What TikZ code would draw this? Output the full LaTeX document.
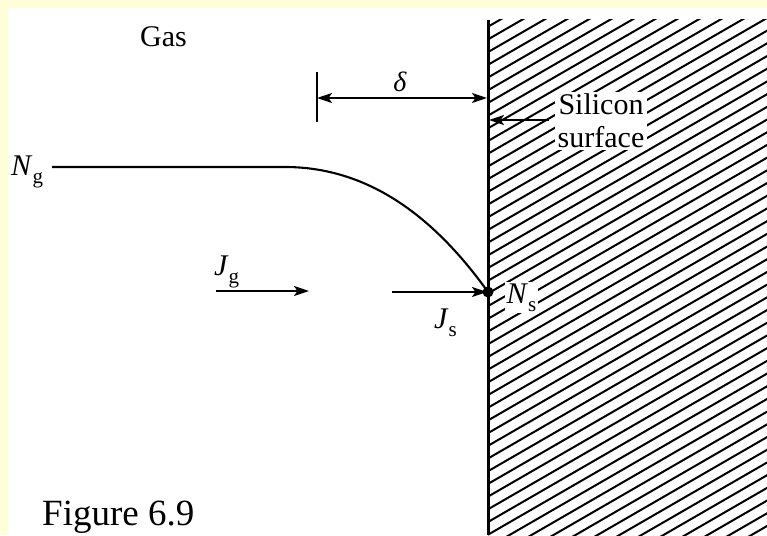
\documentclass[tikz,border=0pt]{standalone}
\usepackage{fontspec}
\setmainfont{Liberation Serif}
\usetikzlibrary{arrows.meta}
\definecolor{bgyellow}{RGB}{255,255,215}
\begin{document}
\begin{tikzpicture}[x=1pt,y=-1pt,
  lbl/.style={inner sep=0pt, font=\fontsize{30}{33}\selectfont},
  thin line/.style={line width=2.1pt},
  arr/.style={line width=2.1pt, -{Stealth[length=15pt,width=10pt,inset=3.5pt]}},
  dimarr/.style={line width=2.1pt, {Stealth[length=15pt,width=10pt,inset=3.5pt]}-{Stealth[length=15pt,width=10pt,inset=3.5pt]}}]
\useasboundingbox (0,0) rectangle (767,535);
\fill[bgyellow] (0,0) rectangle (767,535);
\fill[white] (8,8) rectangle (767,535);
% hatching of the silicon
\begin{scope}
  \clip (488,20) rectangle (767,535);
  \foreach \i in {0,...,55} \draw[line width=2pt] (488,{14+12.7*\i}) -- ++(320,-184.75);
\end{scope}
\coordinate (wtop) at (488,20);
\coordinate (wbot) at (488,535);
\draw[line width=3pt] (wtop) -- (wbot);
% texts
\node[lbl, anchor=base west] (gas) at (140,47) {Gas};
\node[lbl, anchor=base west] (Ng) at (11,175) {\textit{N}\raisebox{-8pt}{\fontsize{21}{21}\selectfont g}};
\node[lbl, anchor=base west] (Jg) at (214,275) {\textit{J}\raisebox{-8pt}{\fontsize{21}{21}\selectfont g}};
\node[lbl, anchor=base west] (Js) at (434,328) {\textit{J}\raisebox{-8pt}{\fontsize{21}{21}\selectfont s}};
\node[lbl, anchor=base west, fill=white, inner sep=1.5pt] (Ns) at (505,303) {\textit{N}\raisebox{-8pt}{\fontsize{21}{21}\selectfont s}};
\node[lbl, fill=white, align=center, inner xsep=3pt, inner ysep=2pt] (si) at (601,121) {Silicon\\surface};
\node[lbl, font=\fontsize{28}{28}\selectfont\itshape] (delta) at (400,82) {δ};
\node[anchor=base west, inner sep=0pt, font=\fontsize{37}{37}\selectfont] (fig) at (42,525) {Figure 6.9};
% concentration curve
\node[circle, fill=black, inner sep=0pt, minimum size=11pt] (dot) at (488,292) {};
\coordinate (c0) at (52,167);
\coordinate (c1) at (285,167);
\draw[thin line] (c0) -- (c1) .. controls (375,167) and (440,225) .. (dot.center);
% flux arrows
\coordinate (jg0) at (216,291);
\coordinate (jg1) at (309,291);
\draw[arr] (jg0) -- (jg1);
\coordinate (js0) at (392,292);
\coordinate (js1) at (487,292);
\draw[arr] (js0) -- (js1);
% boundary layer thickness
\coordinate (t0) at (317,72);
\coordinate (t1) at (317,122);
\draw[thin line] (t0) -- (t1);
\coordinate (d0) at (317,98);
\coordinate (d1) at (487,98);
\draw[dimarr] (d0) -- (d1);
% silicon surface pointer
\coordinate (s1) at (489,120);
\draw[arr] ([xshift=-6pt]si.west |- s1) -- (s1);
\end{tikzpicture}
\end{document}
